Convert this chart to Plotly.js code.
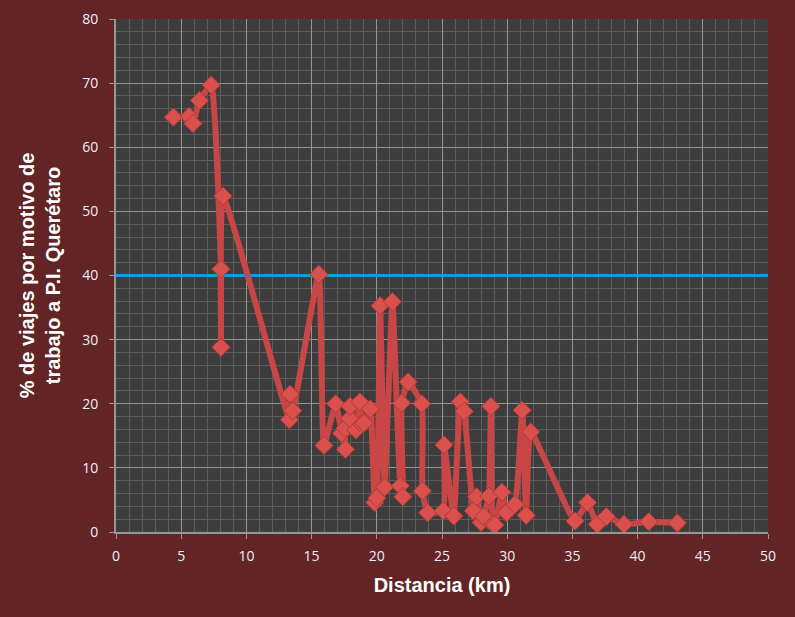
<!DOCTYPE html>
<html>
<head>
<meta charset="utf-8">
<script src="https://cdn.plot.ly/plotly-3.0.1.min.js"></script>
<style>html,body{margin:0;padding:0;background:#622424;}#chart{width:795px;height:617px;}</style>
</head>
<body>
<div id="chart"></div>
<script>
const distancia = [4.4, 5.6, 5.9, 6.4, 7.3, 8.05, 8.05, 8.2, 13.3, 13.35, 13.55, 15.55, 15.95, 16.85, 17.3, 17.6, 17.55, 17.9, 17.95, 18.4, 18.7, 18.85, 19.0, 19.5, 19.85, 20.0, 20.25, 20.6, 21.2, 21.8, 22.0, 21.9, 22.4, 23.45, 23.5, 23.9, 25.1, 25.15, 25.9, 26.4, 26.7, 27.4, 27.65, 28.0, 28.2, 28.6, 28.75, 28.9, 29.05, 29.6, 29.95, 30.6, 31.15, 31.45, 31.8, 35.2, 36.15, 36.9, 37.6, 38.95, 40.85, 43.05];
const porcentaje = [64.7, 64.8, 63.7, 67.3, 69.7, 41.0, 28.8, 52.4, 17.5, 21.5, 18.9, 40.2, 13.5, 20.0, 15.4, 12.9, 16.2, 17.7, 19.6, 15.9, 20.3, 16.8, 17.0, 19.2, 4.6, 5.3, 35.3, 7.0, 35.9, 7.2, 5.5, 20.1, 23.4, 20.0, 6.4, 3.0, 3.3, 13.6, 2.5, 20.3, 18.8, 3.3, 5.5, 1.5, 2.4, 5.6, 19.6, 1.2, 1.1, 6.2, 3.0, 4.3, 19.0, 2.6, 15.6, 1.7, 4.6, 1.2, 2.4, 1.2, 1.6, 1.4];
const umbralX = [0, 50];
const umbralY = [40, 40];
const xTicks = [0, 5, 10, 15, 20, 25, 30, 35, 40, 45, 50];
const yTicks = [0, 10, 20, 30, 40, 50, 60, 70, 80];

const tickFont = {family: 'Open Sans, Liberation Sans, Arial, sans-serif', size: 14, color: '#eeeefa'};
const xTitleFont = {family: 'Liberation Sans, Arial, sans-serif', size: 20, color: '#ffffff', weight: 'bold'};
const yTitleFont = {family: 'Liberation Sans, Arial, sans-serif', size: 20, color: '#ffffff', weight: 'bold'};

const traces = [
  {x: umbralX, y: umbralY, mode: 'lines', line: {color: '#0aa0e0', width: 3}, hoverinfo: 'skip', showlegend: false},
  {x: distancia, y: porcentaje, mode: 'lines+markers',
   line: {color: '#c84646', width: 6, shape: 'spline', smoothing: 0.4},
   marker: {symbol: 'diamond', size: 14, color: '#d9504d', line: {color: '#b03a38', width: 1}},
   showlegend: false}
];

const layout = {
  width: 795, height: 617,
  paper_bgcolor: '#622424',
  plot_bgcolor: '#3d3d3d',
  margin: {l: 116, r: 27, t: 19, b: 85},
  showlegend: false,
  xaxis: {
    range: [0, 50], tickvals: xTicks, ticktext: xTicks.map(String),
    showgrid: true, gridcolor: '#959595', gridwidth: 1,
    minor: {dtick: 1, showgrid: true, gridcolor: '#5c5c5c', gridwidth: 1},
    zeroline: false, showline: true, linecolor: '#959595', linewidth: 2,
    ticks: 'outside', ticklen: 5, tickcolor: '#959595',
    tickfont: tickFont, ticklabelstandoff: 5,
    title: {text: 'Distancia (km)', font: xTitleFont, standoff: 14}
  },
  yaxis: {
    range: [0, 80], tickvals: yTicks, ticktext: yTicks.map(String),
    showgrid: true, gridcolor: '#959595', gridwidth: 1,
    minor: {dtick: 2, showgrid: true, gridcolor: '#5c5c5c', gridwidth: 1},
    zeroline: false, showline: true, linecolor: '#959595', linewidth: 2,
    ticks: 'outside', ticklen: 5, tickcolor: '#959595',
    tickfont: tickFont, ticklabelstandoff: 8,
    title: {text: '% de viajes por motivo de<br>trabajo a P.I. Querétaro', font: yTitleFont, standoff: 16}
  }
};

Plotly.newPlot('chart', traces, layout, {displayModeBar: false, staticPlot: true});
</script>
</body>
</html>
